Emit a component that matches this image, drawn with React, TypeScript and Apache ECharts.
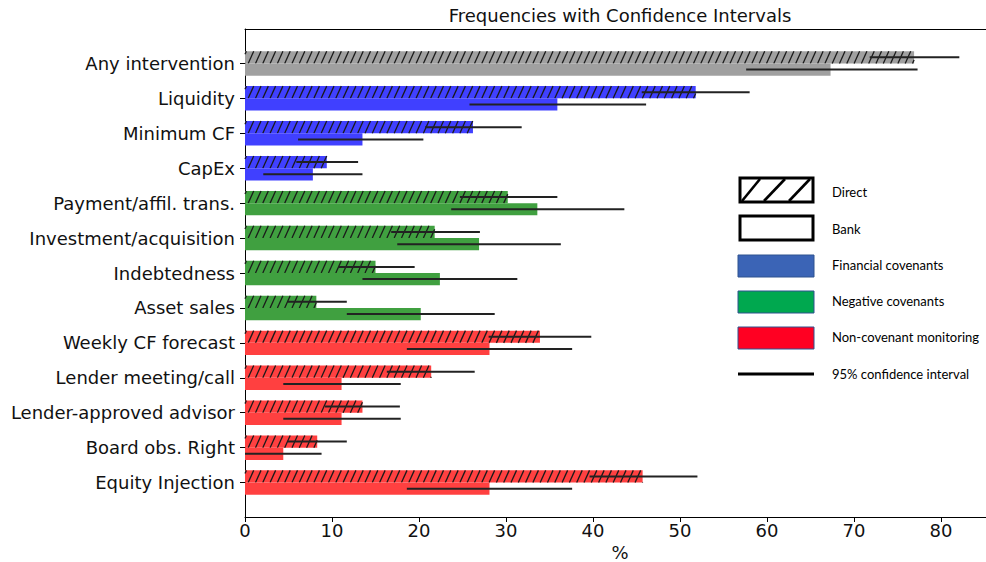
import React, { useEffect, useRef } from 'react';
import * as echarts from 'echarts';

const categories = [
  'Any intervention', 'Liquidity', 'Minimum CF', 'CapEx', 'Payment/affil. trans.',
  'Investment/acquisition', 'Indebtedness', 'Asset sales', 'Weekly CF forecast',
  'Lender meeting/call', 'Lender-approved advisor', 'Board obs. Right', 'Equity Injection',
];
const groups = ['any', 'fin', 'fin', 'fin', 'neg', 'neg', 'neg', 'neg', 'mon', 'mon', 'mon', 'mon', 'mon'];
const directValues = [76.9, 51.8, 26.2, 9.4, 30.2, 21.8, 15.0, 8.2, 33.9, 21.4, 13.5, 8.3, 45.7];
const directLow = [71.8, 45.6, 20.7, 5.9, 24.7, 16.8, 10.7, 4.9, 28.0, 16.3, 9.2, 4.9, 39.6];
const directHigh = [82.1, 58.0, 31.8, 13.0, 35.9, 27.0, 19.5, 11.7, 39.8, 26.4, 17.8, 11.7, 52.0];
const bankValues = [67.3, 35.9, 13.5, 7.8, 33.6, 26.9, 22.4, 20.2, 28.1, 11.1, 11.1, 4.4, 28.1];
const bankLow = [57.6, 25.8, 6.1, 2.1, 23.7, 17.5, 13.5, 11.7, 18.6, 4.4, 4.4, 0.0, 18.6];
const bankHigh = [77.3, 46.1, 20.5, 13.5, 43.6, 36.3, 31.3, 28.7, 37.6, 17.9, 17.9, 8.8, 37.6];
const xTicks = [0, 10, 20, 30, 40, 50, 60, 70, 80];
const yTicks = categories.map((_, i) => i);

const groupColors: Record<string, string> = {
  any: '#a0a0a0',
  fin: '#4040ff',
  neg: '#40a040',
  mon: '#ff4040',
};

const legendItems = [
  { label: 'Direct', kind: 'hatch' },
  { label: 'Bank', kind: 'empty' },
  { label: 'Financial covenants', kind: 'fill', color: '#3b64b6' },
  { label: 'Negative covenants', kind: 'fill', color: '#00a84f' },
  { label: 'Non-covenant monitoring', kind: 'fill', color: '#ff0022' },
  { label: '95% confidence interval', kind: 'line' },
];

const FONT = 'DejaVu Sans';
const HALF = 0.35;
const X_MAX = 86.2;

function hatchLines(x0: number, x1: number, yt: number, yb: number) {
  const out: any[] = [];
  const H = yb - yt;
  const s = 0.45;
  const sp = 7.3;
  const kStart = Math.floor((x0 - H * s) / sp);
  const kEnd = Math.ceil(x1 / sp);
  for (let k = kStart; k <= kEnd; k++) {
    const c = k * sp;
    let bx = c, by = yb;
    let tx = c + H * s, ty = yt;
    if (bx < x0) { by = yb - (x0 - c) / s; bx = x0; }
    if (tx > x1) { ty = yb - (x1 - c) / s; tx = x1; }
    if (tx - bx <= 0.2 || by - ty <= 0.2) continue;
    out.push({
      type: 'line',
      shape: { x1: bx, y1: by, x2: tx, y2: ty },
      style: { stroke: '#1a1a1a', lineWidth: 1.3 },
      silent: true,
    });
  }
  return out;
}

function buildLegend() {
  const els: any[] = [];
  const textX = 832;
  const centers = [192, 229, 265, 301, 337, 374];
  legendItems.forEach((it, idx) => {
    const cy = centers[idx];
    if (it.kind === 'hatch') {
      els.push({ type: 'rect', shape: { x: 740, y: 178, width: 73, height: 24 }, style: { fill: '#fff', stroke: '#000', lineWidth: 3 } });
      const segs = [[742, 201, 760, 179], [764, 201, 785, 179], [789, 201, 810, 179]];
      segs.forEach((s) => els.push({ type: 'line', shape: { x1: s[0], y1: s[1], x2: s[2], y2: s[3] }, style: { stroke: '#000', lineWidth: 2.6 } }));
    } else if (it.kind === 'empty') {
      els.push({ type: 'rect', shape: { x: 740, y: 216, width: 73, height: 24 }, style: { fill: '#fff', stroke: '#000', lineWidth: 3 } });
    } else if (it.kind === 'fill') {
      els.push({ type: 'rect', shape: { x: 738, y: cy - 10, width: 76, height: 22 }, style: { fill: it.color, stroke: '#2f528f', lineWidth: 1 } });
    } else {
      els.push({ type: 'line', shape: { x1: 738, y1: cy, x2: 814, y2: cy }, style: { stroke: '#000', lineWidth: 3 } });
    }
    els.push({
      type: 'text',
      x: textX,
      y: cy,
      style: { text: it.label, fill: '#000', font: '13px Lato', textVerticalAlign: 'middle', textAlign: 'left' },
    });
  });
  return els;
}

export default function App() {
  const ref = useRef<HTMLDivElement>(null);
  useEffect(() => {
    if (!ref.current) return;
    const chart = echarts.init(ref.current, undefined, { renderer: 'svg' });

    const directData = categories.map((_, i) => [directValues[i], i]);
    const bankData = categories.map((_, i) => [bankValues[i], i]);
    const ciDirect = categories.map((_, i) => [directLow[i], directHigh[i], i]);
    const ciBank = categories.map((_, i) => [bankLow[i], bankHigh[i], i]);

    const option: any = {
      animation: false,
      backgroundColor: '#fff',
      title: {
        text: 'Frequencies with Confidence Intervals',
        left: 620,
        top: 6,
        padding: 0,
        textAlign: 'center',
        textStyle: { fontFamily: FONT, fontSize: 18, fontWeight: 'normal', color: '#111' },
      },
      grid: {
        left: 245,
        top: 29,
        width: 750,
        height: 488,
        show: false,
        containLabel: false,
        outerBoundsMode: 'none',
      },
      xAxis: [
        {
          type: 'value',
          min: 0,
          max: X_MAX,
          name: '%',
          nameLocation: 'middle',
          nameGap: 20,
          nameTextStyle: { fontFamily: FONT, fontSize: 18, color: '#111' },
          axisLine: { show: true, onZero: false, lineStyle: { color: '#000', width: 1 } },
          axisTick: { show: true, length: 5, customValues: xTicks, lineStyle: { color: '#000' } },
          axisLabel: { customValues: xTicks, fontFamily: FONT, fontSize: 18, color: '#111', margin: 4 },
          splitLine: { show: false },
        },
        {
          type: 'value',
          position: 'top',
          min: 0,
          max: X_MAX,
          axisLine: { show: true, onZero: false, lineStyle: { color: '#000', width: 1 } },
          axisTick: { show: false },
          axisLabel: { show: false },
          splitLine: { show: false },
        },
      ],
      yAxis: {
        type: 'value',
        inverse: true,
        min: -0.985,
        max: 12.985,
        axisLine: { show: true, onZero: false, lineStyle: { color: '#000', width: 1 } },
        axisTick: { show: true, length: 5, customValues: yTicks, lineStyle: { color: '#000' } },
        axisLabel: {
          customValues: yTicks,
          fontFamily: FONT,
          fontSize: 18,
          color: '#111',
          margin: 10,
          formatter: (v: number) => categories[Math.round(v)] ?? '',
        },
        splitLine: { show: false },
      },
      series: [
        {
          type: 'custom',
          name: 'Direct',
          data: directData,
          encode: { x: 0, y: 1 },
          renderItem: (params: any, api: any) => {
            const v = api.value(0);
            const i = api.value(1);
            const p0 = api.coord([0, i - HALF]);
            const p1 = api.coord([v, i]);
            const x0 = p0[0], x1 = p1[0], yt = p0[1], yb = p1[1];
            const color = groupColors[groups[i]];
            return {
              type: 'group',
              children: [
                { type: 'rect', shape: { x: x0, y: yt, width: x1 - x0, height: yb - yt }, style: { fill: color } },
                ...hatchLines(x0, x1, yt, yb),
              ],
            };
          },
        },
        {
          type: 'custom',
          name: 'Bank',
          data: bankData,
          encode: { x: 0, y: 1 },
          renderItem: (params: any, api: any) => {
            const v = api.value(0);
            const i = api.value(1);
            const p0 = api.coord([0, i]);
            const p1 = api.coord([v, i + HALF]);
            const color = groupColors[groups[i]];
            return {
              type: 'rect',
              shape: { x: p0[0], y: p0[1], width: p1[0] - p0[0], height: p1[1] - p0[1] },
              style: { fill: color },
            };
          },
        },
        {
          type: 'custom',
          name: 'CI Direct',
          data: ciDirect,
          encode: { x: [0, 1], y: 2 },
          z: 5,
          renderItem: (params: any, api: any) => {
            const i = api.value(2);
            const a = api.coord([api.value(0), i - HALF / 2]);
            const b = api.coord([api.value(1), i - HALF / 2]);
            return { type: 'line', shape: { x1: a[0], y1: a[1], x2: b[0], y2: b[1] }, style: { stroke: '#222', lineWidth: 2 } };
          },
        },
        {
          type: 'custom',
          name: 'CI Bank',
          data: ciBank,
          encode: { x: [0, 1], y: 2 },
          z: 5,
          renderItem: (params: any, api: any) => {
            const i = api.value(2);
            const a = api.coord([api.value(0), i + HALF / 2]);
            const b = api.coord([api.value(1), i + HALF / 2]);
            return { type: 'line', shape: { x1: a[0], y1: a[1], x2: b[0], y2: b[1] }, style: { stroke: '#222', lineWidth: 2 } };
          },
        },
      ],
      graphic: { elements: buildLegend() },
    };
    chart.setOption(option);
    return () => chart.dispose();
  }, []);
  return <div ref={ref} style={{ position: 'fixed', left: 0, top: 0, width: 986, height: 562 }} />;
}
